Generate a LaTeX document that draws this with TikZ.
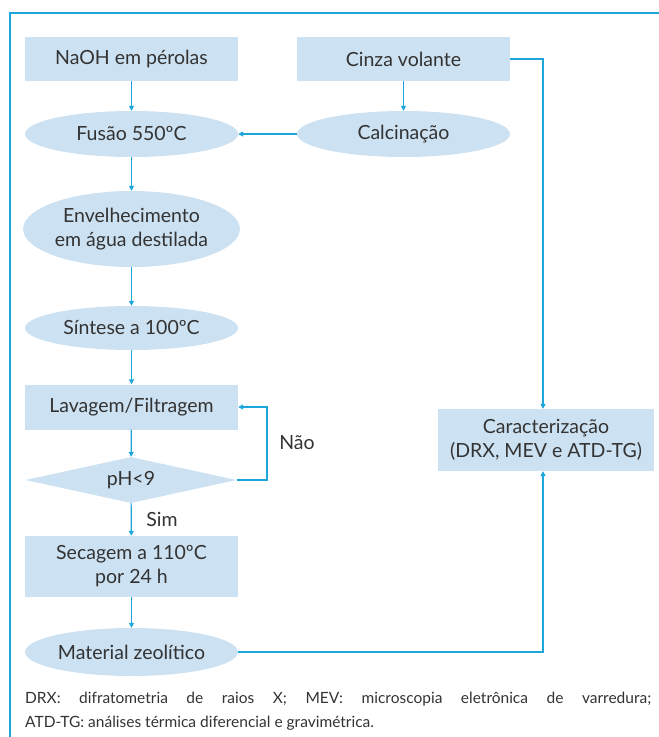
\documentclass[tikz,border=0pt]{standalone}
\usepackage{fontspec}
\setmainfont{Lato}
\usetikzlibrary{shapes.geometric,arrows.meta}
\definecolor{boxfill}{HTML}{CCE1F1}
\definecolor{lineblue}{HTML}{1DA6DC}
\definecolor{txt}{HTML}{333333}
\tikzset{
  base/.style={fill=boxfill,text=txt,font=\fontsize{19.5}{24}\selectfont,inner sep=0pt,align=center},
  rbox/.style={base,rectangle,minimum width=213pt},
  ell/.style={base,ellipse,minimum width=213pt,minimum height=46pt},
  dia/.style={base,diamond,minimum width=211pt,minimum height=46pt,shape aspect=4.6},
  conn/.style={draw=lineblue,line width=1.2pt},
  arr/.style={conn,-{Triangle[length=5pt,width=5pt]}},
  lbl/.style={text=txt,font=\fontsize{19.5}{24}\selectfont}
}
\begin{document}
\begin{tikzpicture}[x=1pt,y=-1pt]
\useasboundingbox (0,0) rectangle (659,737);
\draw[lineblue,line width=1.5pt] (10,737) -- (10,13) -- (659,13);
\node[rbox,minimum height=44pt] (naoh) at (131.5,59) {NaOH em pérolas};
\node[rbox,minimum height=44pt] (cinza) at (403.5,59) {Cinza volante};
\node[ell] (fusao) at (131.5,134) {Fusão 550ºC};
\node[ell] (calc) at (403.5,134) {Calcinação};
\node[ell,minimum height=76pt] (env) at (131.5,229) {Envelhecimento\\em água destilada};
\node[ell,minimum height=44pt] (sint) at (131.5,328) {Síntese a 100ºC};
\node[rbox,minimum height=45pt] (lav) at (131.5,407) {Lavagem/Filtragem};
\node[dia] (ph) at (131,480) {pH<9};
\node[rbox,minimum height=61pt] (sec) at (131.5,566.5) {Secagem a 110ºC\\por 24 h};
\node[ell,minimum height=48pt] (mat) at (131.5,652) {Material zeolítico};
\node[rbox,minimum width=216pt,minimum height=62pt] (car) at (546,440) {Caracterização\\(DRX, MEV e ATD-TG)};
\coordinate (c1) at (543,59);
\coordinate (c2) at (543,652);
\coordinate (l1) at (267,480);
\coordinate (l2) at (267,407);
\draw[arr] (naoh) -- (fusao);
\draw[arr] (cinza) -- (calc);
\draw[arr] (calc) -- (fusao);
\draw[arr] (fusao) -- (env);
\draw[arr] (env) -- (sint);
\draw[arr] (sint) -- (lav);
\draw[arr] (lav) -- (ph);
\draw[arr] (ph) -- (sec);
\draw[arr] (sec) -- (mat);
\draw[arr] (ph.east) -- (l1) -- (l2) -- (lav.east);
\draw[arr] (cinza.east) -- (c1) -- (car.north -| c1);
\draw[arr] (mat.east) -- (c2) -- (car.south -| c2);
\node[lbl] (nao) at (297,443) {Não};
\node[lbl] (sim) at (162,519) {Sim};
\node[text=txt,font=\fontsize{15.5}{24}\selectfont,align=left,inner sep=0pt,anchor=north west] (foot) at (25,692)
{\makebox[626pt][s]{DRX: difratometria de raios X; MEV: microscopia eletrônica de varredura;}\\ATD-TG: análises térmica diferencial e gravimétrica.};
\end{tikzpicture}
\end{document}
